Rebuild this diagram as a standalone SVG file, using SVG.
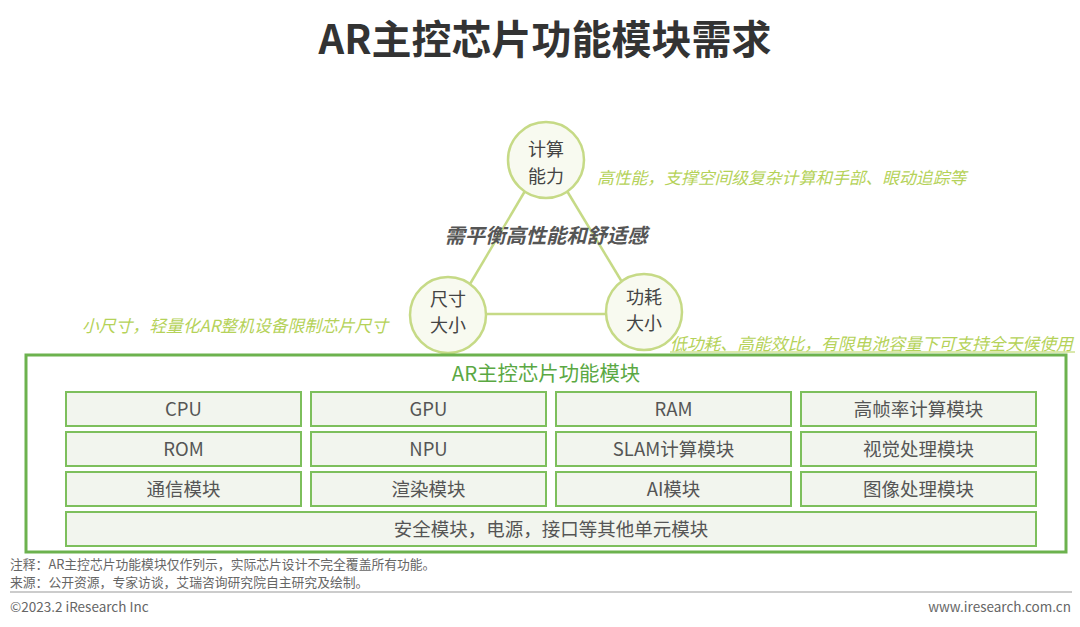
<svg xmlns="http://www.w3.org/2000/svg" width="1080" height="627" viewBox="0 0 1080 627">
<style>
.t{font-family:"Noto Sans CJK SC","Noto Sans",sans-serif;}
.circ{fill:#f8faf0;stroke:#c6da86;stroke-width:2.5;}
.ctext{font-size:18px;fill:#444;text-anchor:middle;}
.ann{font-size:16.8px;fill:#b5d259;font-style:italic;}
.cell{fill:#f2f5ee;stroke:#7dbf5c;stroke-width:2;}
.ctx{font-size:18.5px;fill:#555;text-anchor:middle;}
.foot{font-size:12.8px;fill:#666;}
</style>
<rect width="1080" height="627" fill="#fff"/>
<text class="t" x="545" y="54" font-size="40" font-weight="bold" fill="#333" text-anchor="middle">AR主控芯片功能模块需求</text>

<g id="connectors" stroke="#c6da86" stroke-width="2.5" fill="none">
<line x1="525" y1="191" x2="470" y2="284"/>
<line x1="567" y1="191" x2="622" y2="282"/>
<line x1="487" y1="314" x2="605" y2="314"/>
</g>

<g id="node-compute">
<circle class="circ" cx="546" cy="160" r="38"/>
<text class="t ctext" x="546" y="156">计算</text>
<text class="t ctext" x="546" y="183">能力</text>
</g>
<g id="node-size">
<circle class="circ" cx="448" cy="315" r="38"/>
<text class="t ctext" x="448" y="306">尺寸</text>
<text class="t ctext" x="448" y="332">大小</text>
</g>
<g id="node-power">
<circle class="circ" cx="644" cy="312" r="38"/>
<text class="t ctext" x="644" y="304">功耗</text>
<text class="t ctext" x="644" y="330">大小</text>
</g>

<text class="t" x="546" y="243" font-size="20.3" font-weight="bold" font-style="italic" fill="#555" text-anchor="middle">需平衡高性能和舒适感</text>

<text class="t ann" x="597" y="184">高性能，支撑空间级复杂计算和手部、眼动追踪等</text>
<text class="t ann" x="82" y="332" font-size="17.2">小尺寸，轻量化AR整机设备限制芯片尺寸</text>
<text class="t ann" x="670" y="350">低功耗、高能效比，有限电池容量下可支持全天候使用</text>
<line x1="670" y1="352" x2="1075" y2="352" stroke="#b5d259" stroke-width="1"/>

<g id="module-box">
<rect x="26" y="355" width="1040" height="197" fill="#fff" stroke="#6cb24e" stroke-width="3"/>
<text class="t" x="546" y="381" font-size="20.4" fill="#5aa843" text-anchor="middle">AR主控芯片功能模块</text>
</g>

<g id="cells">
<g id="cpu"><rect class="cell" x="66" y="392" width="235" height="34"/><text class="t ctx" x="183.5" y="415.5">CPU</text></g>
<g id="gpu"><rect class="cell" x="311" y="392" width="235" height="34"/><text class="t ctx" x="428.5" y="415.5">GPU</text></g>
<g id="ram"><rect class="cell" x="556" y="392" width="235" height="34"/><text class="t ctx" x="673.5" y="415.5">RAM</text></g>
<g id="hfr"><rect class="cell" x="801" y="392" width="235" height="34"/><text class="t ctx" x="918.5" y="415.5">高帧率计算模块</text></g>

<g id="rom"><rect class="cell" x="66" y="432" width="235" height="34"/><text class="t ctx" x="183.5" y="455.5">ROM</text></g>
<g id="npu"><rect class="cell" x="311" y="432" width="235" height="34"/><text class="t ctx" x="428.5" y="455.5">NPU</text></g>
<g id="slam"><rect class="cell" x="556" y="432" width="235" height="34"/><text class="t ctx" x="673.5" y="455.5">SLAM计算模块</text></g>
<g id="vision"><rect class="cell" x="801" y="432" width="235" height="34"/><text class="t ctx" x="918.5" y="455.5">视觉处理模块</text></g>

<g id="comm"><rect class="cell" x="66" y="472" width="235" height="34"/><text class="t ctx" x="183.5" y="495.5">通信模块</text></g>
<g id="render"><rect class="cell" x="311" y="472" width="235" height="34"/><text class="t ctx" x="428.5" y="495.5">渲染模块</text></g>
<g id="ai"><rect class="cell" x="556" y="472" width="235" height="34"/><text class="t ctx" x="673.5" y="495.5">AI模块</text></g>
<g id="image"><rect class="cell" x="801" y="472" width="235" height="34"/><text class="t ctx" x="918.5" y="495.5">图像处理模块</text></g>

<g id="misc"><rect class="cell" x="66" y="512" width="970" height="34"/><text class="t ctx" x="551" y="535.5">安全模块，电源，接口等其他单元模块</text></g>
</g>

<text class="t foot" x="10" y="569">注释：AR主控芯片功能模块仅作列示，实际芯片设计不完全覆盖所有功能。</text>
<text class="t foot" x="10" y="587">来源：公开资源，专家访谈，艾瑞咨询研究院自主研究及绘制。</text>
<line x1="10" y1="592" x2="1072" y2="592" stroke="#999" stroke-width="1.2"/>
<text class="t" x="10" y="612" font-size="13.5" fill="#666">©2023.2 iResearch Inc</text>
<text class="t" x="1071" y="612" font-size="13.5" fill="#666" text-anchor="end">www.iresearch.com.cn</text>
</svg>
